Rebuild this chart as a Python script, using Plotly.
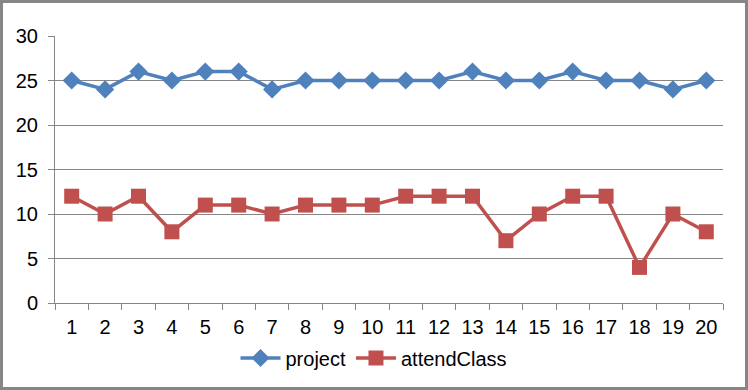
import plotly.graph_objects as go

categories = [str(i) for i in range(1, 21)]
project = [25, 24, 26, 25, 26, 26, 24, 25, 25, 25, 25, 25, 26, 25, 25, 26, 25, 25, 24, 25]
attend_class = [12, 10, 12, 8, 11, 11, 10, 11, 11, 11, 12, 12, 12, 7, 10, 12, 12, 4, 10, 8]
y_ticks = [0, 5, 10, 15, 20, 25, 30]

W, H = 748, 390
ML, MR, MT, MB = 55, 25, 36, 87
PW, PH = W - ML - MR, H - MT - MB

fig = go.Figure()
fig.add_trace(go.Scatter(x=categories, y=project, name="project", mode="lines+markers",
                         line=dict(color="#4F81BD", width=3.5),
                         marker=dict(symbol="diamond", size=14, color="#4F81BD")))
fig.add_trace(go.Scatter(x=categories, y=attend_class, name="attendClass", mode="lines+markers",
                         line=dict(color="#C0504D", width=3.5),
                         marker=dict(symbol="square", size=15, color="#C0504D")))

fig.update_layout(
    width=W, height=H,
    margin=dict(l=ML, r=MR, t=MT, b=MB, autoexpand=False),
    paper_bgcolor="white", plot_bgcolor="white",
    font=dict(family="Liberation Sans, Arial", size=20, color="black"),
    showlegend=True,
    legend=dict(orientation="h", x=0.5, xanchor="center", xref="container",
                y=1 - 358 / H, yanchor="middle", yref="container",
                font=dict(size=20), itemwidth=40),
    xaxis=dict(type="category", tickson="boundaries", ticks="outside", ticklen=6,
               tickcolor="#868686", showline=True, linecolor="#868686", linewidth=1,
               showgrid=False, range=[-0.5, 19.5], fixedrange=True, automargin=False,
               ticklabelstandoff=6),
    yaxis=dict(range=[0, 30], tickvals=y_ticks, ticks="outside", ticklen=6,
               tickcolor="#868686", showline=True, linecolor="#868686", linewidth=1,
               showgrid=True, gridcolor="#868686", gridwidth=1, zeroline=False,
               ticklabelstandoff=6, automargin=False),
    shapes=[dict(type="rect", xref="paper", yref="paper",
                 x0=(1.5 - ML) / PW, x1=(W - 1.5 - ML) / PW,
                 y0=-(H - 1.5 - MT - PH) / PH, y1=(MT - 1.5) / PH + 1,
                 line=dict(color="#868686", width=3))],
)

fig.write_html("out.html", config={"displayModeBar": False},
               post_script="document.body.style.margin='0';document.body.style.overflow='hidden';")
